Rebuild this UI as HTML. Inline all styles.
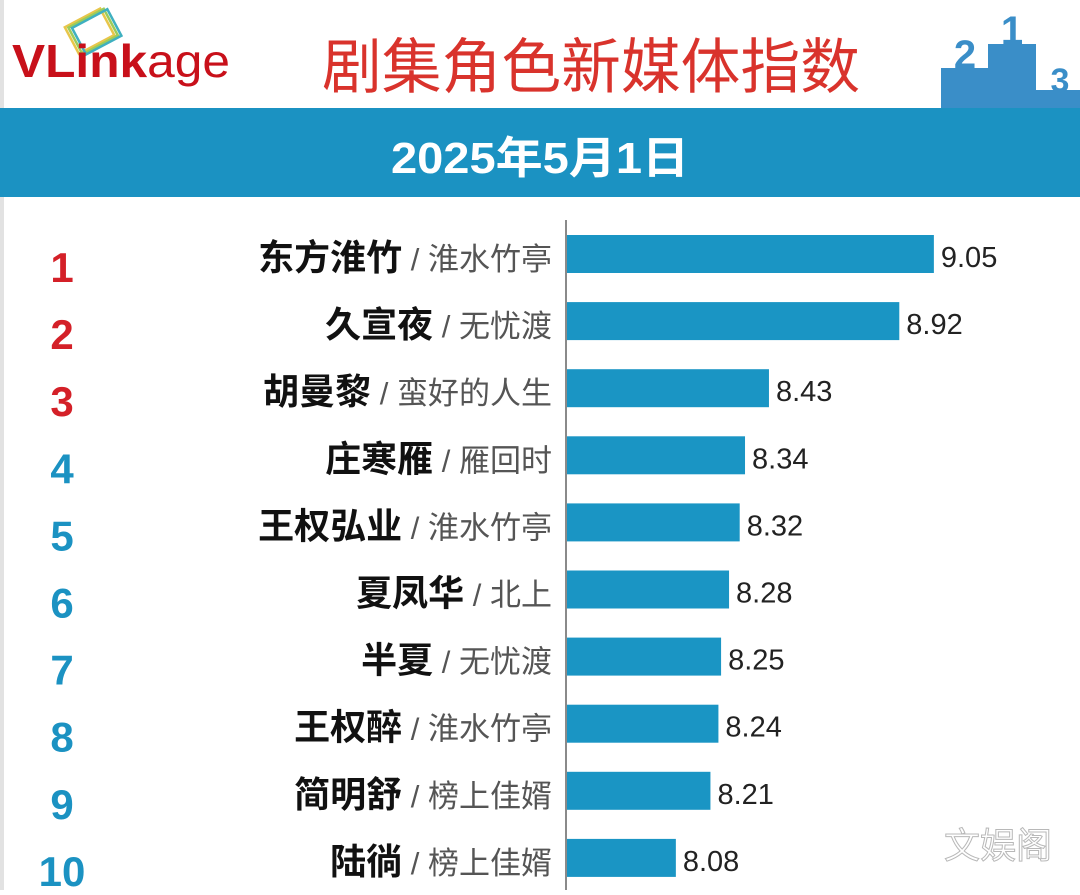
<!DOCTYPE html>
<html><head><meta charset="utf-8"><style>
html,body{margin:0;padding:0;background:#fff;}
body{width:1080px;height:890px;overflow:hidden;font-family:"Liberation Sans","Noto Sans CJK SC",sans-serif;}
</style></head><body>
<svg id="chart" width="1080" height="890" viewBox="0 0 1080 890" xmlns="http://www.w3.org/2000/svg">
  <rect x="0" y="0" width="1080" height="890" fill="#ffffff"/>
  <rect x="0" y="0" width="4" height="890" fill="#e2e2e2"/>
  <g>
    <g transform="translate(72,28) rotate(-28)">
      <rect x="-6" y="-4" width="40" height="30" fill="none" stroke="#e8c64a" stroke-width="2.5"/>
      <rect x="-3" y="-2" width="40" height="30" fill="none" stroke="#9ccc5a" stroke-width="2.5"/>
      <rect x="0" y="0" width="40" height="30" fill="none" stroke="#3fb0c0" stroke-width="2.5"/>
    </g>
    <text x="12" y="77" font-size="46" font-weight="bold" fill="#c8101a" font-family="Liberation Sans, sans-serif" textLength="218" lengthAdjust="spacingAndGlyphs">VLink<tspan font-weight="normal">age</tspan></text>
  </g>
  <text x="591" y="88" text-anchor="middle" font-size="60" fill="#d9332c" font-family="Liberation Sans, Noto Sans CJK SC, sans-serif" textLength="538" lengthAdjust="spacingAndGlyphs">剧集角色新媒体指数</text>
  <g fill="#3a8ec8">
    <rect x="941" y="68" width="47" height="40"/>
    <rect x="988" y="44" width="48" height="64"/>
    <rect x="1036" y="90" width="44" height="18"/>
    <text x="965" y="68" font-size="40" font-weight="bold" text-anchor="middle">2</text>
    <text x="1012" y="44" font-size="40" font-weight="bold" text-anchor="middle">1</text>
    <text x="1060" y="92" font-size="34" font-weight="bold" text-anchor="middle">3</text>
  </g>
  <rect x="0" y="108" width="1080" height="89" fill="#1b92c2"/>
  <text x="540" y="173" text-anchor="middle" font-size="44" font-weight="bold" fill="#ffffff" textLength="298" lengthAdjust="spacingAndGlyphs">2025年5月1日</text>
  <line x1="566" y1="220" x2="566" y2="890" stroke="#8a8a8a" stroke-width="2"/>
  <g id="rows"></g>
  <text x="998" y="858" text-anchor="middle" font-size="36" fill="#ffffff" stroke="#b8b8b8" stroke-width="1">文娱阁</text>
</svg>
<script>
const ranks = ["1","2","3","4","5","6","7","8","9","10"];
const names = ["东方淮竹","久宣夜","胡曼黎","庄寒雁","王权弘业","夏凤华","半夏","王权醉","简明舒","陆徜"];
const dramas = ["淮水竹亭","无忧渡","蛮好的人生","雁回时","淮水竹亭","北上","无忧渡","淮水竹亭","榜上佳婿","榜上佳婿"];
const values = [9.05,8.92,8.43,8.34,8.32,8.28,8.25,8.24,8.21,8.08];
const labels = ["9.05","8.92","8.43","8.34","8.32","8.28","8.25","8.24","8.21","8.08"];

const NS="http://www.w3.org/2000/svg";
const x0=566, vMin=7.667, pxPer=266;
function xScale(v){return x0+(v-vMin)*pxPer;}
function yCenter(i){return 254+i*67.1;}
const g=document.getElementById('rows');
function mk(tag,attrs,txt){const e=document.createElementNS(NS,tag);for(const k in attrs)e.setAttribute(k,attrs[k]);if(txt!=null)e.textContent=txt;g.appendChild(e);return e;}
values.forEach((v,i)=>{
  const yc=yCenter(i);
  const r=mk('text',{x:62,y:yc+28,'text-anchor':'middle','font-size':42,'font-weight':'bold',fill:i<3?'#d42028':'#1b92c2'},ranks[i]);
  
  
  const t=mk('text',{x:552,y:yc+16,'text-anchor':'end','font-family':'Liberation Sans, Noto Sans CJK SC, sans-serif'});
  
  
  const a=document.createElementNS(NS,'tspan');a.setAttribute('font-size','36');a.setAttribute('font-weight','bold');a.setAttribute('fill','#111');a.textContent=names[i];t.appendChild(a);
  const b=document.createElementNS(NS,'tspan');b.setAttribute('font-size','31');b.setAttribute('fill','#555');b.textContent=' / '+dramas[i];t.appendChild(b);
  const bar=mk('rect',{x:x0+1,y:yc-19,width:xScale(v)-x0-1,height:38,fill:'#1a95c4'});
  
  
  const lb=mk('text',{x:xScale(v)+7,y:yc+13,'font-size':29,fill:'#222'},labels[i]);
  
  
});
</script>
</body></html>
